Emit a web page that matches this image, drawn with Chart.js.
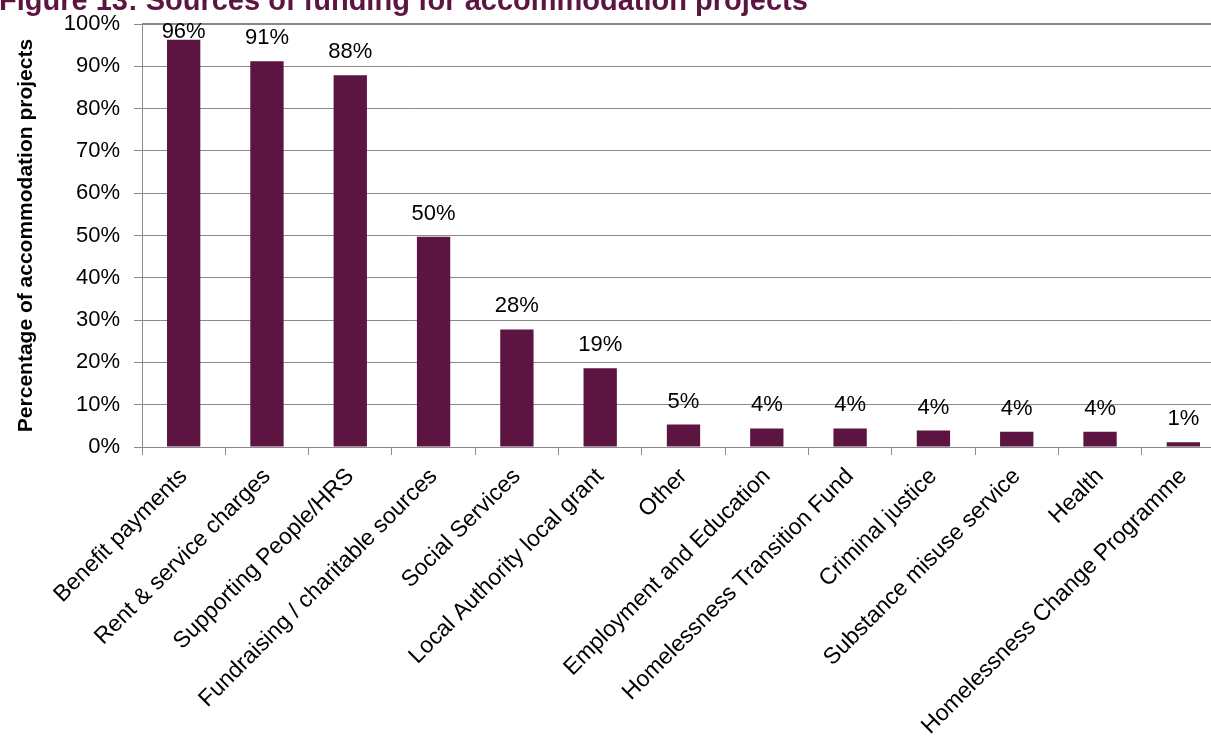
<!DOCTYPE html>
<html>
<head>
<meta charset="utf-8">
<script src="https://cdn.jsdelivr.net/npm/chart.js@4.4.0/dist/chart.umd.min.js"></script>
<style>
  body { margin: 0; background: #fff; }
  #wrap { position: relative; width: 1211px; height: 740px; overflow: hidden; }
  #funding-chart { position: absolute; left: 0; top: 0; }
</style>
</head>
<body>
<div id="wrap"><canvas id="funding-chart" width="1225" height="740"></canvas></div>
<script>
// Funding sources for accommodation projects (% of projects)
const sources = [
  'Benefit payments',
  'Rent & service charges',
  'Supporting People/HRS',
  'Fundraising / charitable sources',
  'Social Services',
  'Local Authority local grant',
  'Other',
  'Employment and Education',
  'Homelessness Transition Fund',
  'Criminal justice',
  'Substance misuse service',
  'Health',
  'Homelessness Change Programme'
];
const shares = [96.3, 91.2, 87.9, 49.7, 27.8, 18.6, 5.3, 4.4, 4.4, 3.9, 3.6, 3.6, 1.1];
const yTicks = [0, 10, 20, 30, 40, 50, 60, 70, 80, 90, 100];

const PLUM = '#5C1541';
const GRID = '#8a8a8a';
const FONT = 'Arial, "Liberation Sans", sans-serif';

// Title sits partly above the canvas edge, plus value labels over the bars
const annotate = {
  id: 'annotate',
  afterDatasetsDraw(chart) {
    const ctx = chart.ctx;
    const area = chart.chartArea;
    ctx.save();

    // heavier line along the 100% mark
    ctx.strokeStyle = GRID;
    ctx.lineWidth = 2;
    ctx.beginPath();
    ctx.moveTo(area.left, area.top);
    ctx.lineTo(area.right, area.top);
    ctx.stroke();

    ctx.fillStyle = PLUM;
    ctx.font = 'bold 29px ' + FONT;
    ctx.textAlign = 'left';
    ctx.textBaseline = 'alphabetic';
    ctx.fillText('Figure 13: Sources of funding for accommodation projects', -1, 10);

    // value labels; keep them inside the plot when the bar is near the top
    const meta = chart.getDatasetMeta(0);
    ctx.fillStyle = '#000';
    ctx.font = '22px ' + FONT;
    ctx.textAlign = 'center';
    meta.data.forEach((bar, i) => {
      const y = Math.max(bar.y - 17, area.top + 14);
      ctx.fillText(Math.round(shares[i]) + '%', bar.x, y);
    });
    ctx.restore();
  }
};

new Chart(document.getElementById('funding-chart').getContext('2d'), {
  type: 'bar',
  data: {
    labels: sources,
    datasets: [{
      data: shares,
      backgroundColor: PLUM,
      borderWidth: 0,
      barPercentage: 0.8,
      categoryPercentage: 0.5
    }]
  },
  options: {
    responsive: false,
    animation: false,
    layout: { padding: { top: 24, right: 0, left: 0, bottom: 0 } },
    plugins: {
      legend: { display: false },
      tooltip: { enabled: false }
    },
    scales: {
      x: {
        grid: {
          drawOnChartArea: false,
          drawTicks: true,
          tickLength: 8,
          color: GRID,
          offset: true
        },
        border: { color: GRID, width: 1 },
        ticks: {
          color: '#000',
          font: { family: FONT, size: 23 },
          minRotation: 45,
          maxRotation: 45,
          autoSkip: false,
          padding: 8
        },
        afterFit(scale) {
          scale.height = 293;
          scale.paddingLeft = 0;
          scale.paddingRight = 0;
        }
      },
      y: {
        min: 0,
        max: 100,
        afterBuildTicks(scale) { scale.ticks = yTicks.map(v => ({ value: v })); },
        grid: { color: GRID, lineWidth: 1, tickLength: 8 },
        border: { color: GRID, width: 1 },
        ticks: {
          color: '#000',
          font: { family: FONT, size: 22 },
          padding: 14,
          callback: v => v + '%'
        },
        title: {
          display: true,
          text: 'Percentage of accommodation projects',
          color: '#000',
          font: { family: FONT, size: 21, weight: 'bold' },
          padding: { top: 14, bottom: 4 }
        },
        afterFit(scale) {
          scale.width = 142;
          scale.paddingTop = 0;
          scale.paddingBottom = 0;
        }
      }
    }
  },
  plugins: [annotate]
});
</script>
</body>
</html>
